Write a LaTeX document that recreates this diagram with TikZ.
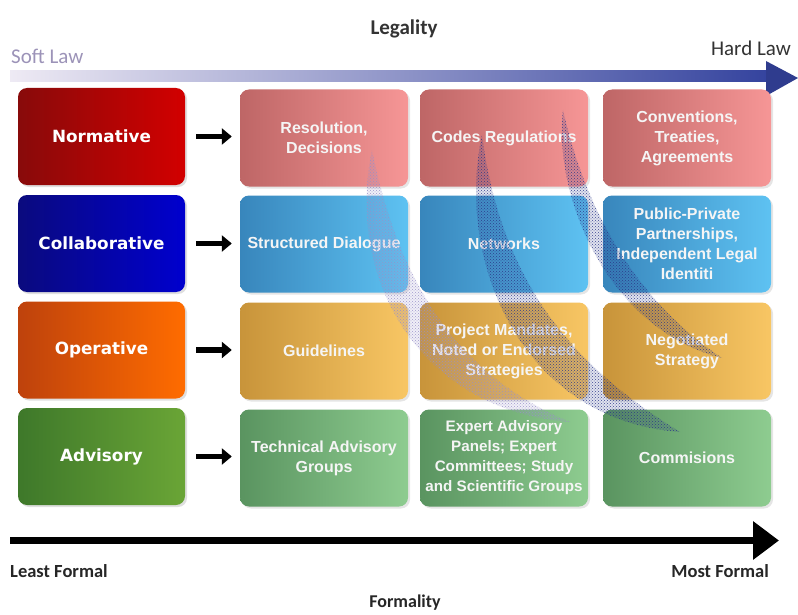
\documentclass[tikz,border=0pt]{standalone}
\usepackage{fontspec}
\usetikzlibrary{arrows.meta,shadows,patterns}
\newfontfamily\dvb{DejaVu Sans}
\newfontfamily\lib{Liberation Sans}
\newfontfamily\crl{Carlito}
\definecolor{nL}{HTML}{880A0A}\definecolor{nR}{HTML}{D20000}
\definecolor{cL}{HTML}{0A0A7E}\definecolor{cR}{HTML}{0000CE}
\definecolor{oL}{HTML}{BE420C}\definecolor{oR}{HTML}{FF6C00}
\definecolor{aL}{HTML}{3E782A}\definecolor{aR}{HTML}{6AA536}
\definecolor{r1L}{HTML}{BE6666}\definecolor{r1R}{HTML}{F69696}
\definecolor{r2L}{HTML}{3886BC}\definecolor{r2R}{HTML}{5EC2F2}
\definecolor{r3L}{HTML}{C8943A}\definecolor{r3R}{HTML}{F8C664}
\definecolor{r4L}{HTML}{5A9460}\definecolor{r4R}{HTML}{8ECC90}
\definecolor{axL}{HTML}{EEEAF4}\definecolor{axR}{HTML}{34439E}
\definecolor{softc}{HTML}{9C93B8}
\definecolor{swD}{HTML}{2A3688}\definecolor{swL}{HTML}{9890C8}
\tikzset{
  catbox/.style={rounded corners=9pt, minimum width=167pt, minimum height=97pt,
    text=white, align=center, inner sep=0pt,
    font=\dvb\bfseries\fontsize{16.8}{20}\selectfont,
    drop shadow={opacity=0.25,shadow xshift=2pt,shadow yshift=-2pt}},
  itembox/.style={rounded corners=9pt, minimum width=168pt, minimum height=97pt,
    text=white!96!black, align=center, inner sep=0pt,
    font=\lib\bfseries\fontsize{16}{20}\selectfont,
    drop shadow={opacity=0.2,shadow xshift=2pt,shadow yshift=-2pt}},
  goarrow/.style={line width=5.5pt, -{Triangle[length=10pt,width=16pt]}, shorten <=11pt, shorten >=8pt},
  swtint/.style={fill=#1, fill opacity=0.14},
  swoosh/.style={pattern=crosshatch dots, pattern color=#1},
  axislabel/.style={font=\crl\fontsize{21}{24}\selectfont, text=black!80, inner sep=0pt}
}
\begin{document}
\begin{tikzpicture}[x=1pt,y=-1pt]
\useasboundingbox (0,0) rectangle (798,615);
\fill[white] (0,0) rectangle (798,615);
% Legality axis
\node[axislabel, font=\crl\bfseries\fontsize{21}{24}\selectfont] (legality) at (404,29) {Legality};
\node[axislabel, text=softc, anchor=west] (soft) at (11,56) {Soft Law};
\node[axislabel, anchor=east] (hard) at (791,48) {Hard Law};
\coordinate (ls) at (10,76.5);
\coordinate (le) at (798,78);
\shade[left color=axL, right color=axR] (10,71) rectangle (770,82);
\fill[axR!90!black] (766,61) -- (le) -- (766,96) -- cycle;
% Category boxes
\node[catbox, left color=nL, right color=nR] (norm) at (101.5,136.5) {Normative};
\node[catbox, left color=cL, right color=cR] (coll) at (101.5,243.5) {Collaborative};
\node[catbox, left color=oL, right color=oR] (oper) at (101.5,350) {Operative};
\node[catbox, left color=aL, right color=aR] (advi) at (101.5,456.5) {Advisory};
% Row 1
\node[itembox, left color=r1L, right color=r1R] (r12) at (324,138) {Resolution,\\Decisions};
\node[itembox, left color=r1L, right color=r1R] (r13) at (504,138) {Codes Regulations};
\node[itembox, left color=r1L, right color=r1R] (r14) at (687,138) {Conventions,\\Treaties,\\Agreements};
% Row 2
\node[itembox, left color=r2L, right color=r2R] (r22) at (324,244) {Structured Dialogue};
\node[itembox, left color=r2L, right color=r2R] (r23) at (504,244) {Networks};
\node[itembox, left color=r2L, right color=r2R] (r24) at (687,244) {Public-Private\\Partnerships,\\Independent Legal\\Identiti};
% Row 3
\node[itembox, left color=r3L, right color=r3R] (r32) at (324,351) {Guidelines};
\node[itembox, left color=r3L, right color=r3R] (r33) at (504,351) {Project Mandates,\\Noted or Endorsed\\Strategies};
\node[itembox, left color=r3L, right color=r3R] (r34) at (687,351) {Negotiated\\Strategy};
% Row 4
\node[itembox, left color=r4L, right color=r4R] (r42) at (324,458) {Technical Advisory\\Groups};
\node[itembox, left color=r4L, right color=r4R, font=\lib\bfseries\fontsize{15.2}{20}\selectfont] (r43) at (504,458) {Expert Advisory\\Panels; Expert\\Committees; Study\\and Scientific Groups};
\node[itembox, left color=r4L, right color=r4R] (r44) at (687,458) {Commisions};
% Arrows
\draw[goarrow] (norm.east) -- (r12.west |- norm.east);
\draw[goarrow] (coll.east) -- (r22.west |- coll.east);
\draw[goarrow] (oper.east) -- (r32.west |- oper.east);
\draw[goarrow] (advi.east) -- (r42.west |- advi.east);
% Watermark swooshes
\def\swA{(372,150) .. controls (345,280) and (420,410) .. (570,422)
   .. controls (470,380) and (402,300) .. (372,150)}
\def\swB{(482,135) .. controls (455,260) and (520,420) .. (680,432)
   .. controls (580,370) and (502,290) .. (482,135)}
\def\swC{(563,110) .. controls (553,200) and (610,330) .. (722,358)
   .. controls (650,310) and (590,230) .. (563,110)}
\fill[swtint=swL] \swA;
\fill[swtint=swD] \swB;
\fill[swtint=swD] \swC;
\begin{scope}[opacity=0.9]
\fill[swoosh=swL] \swA;
\fill[swoosh=swD] \swB;
\fill[swoosh=swD] \swC;
\end{scope}
% Formality axis
\coordinate (fs) at (10,540.5);
\coordinate (fe) at (779,540.5);
\draw[line width=7pt, -{Triangle[length=26pt,width=37pt]}] (fs) -- (fe);
\node[axislabel, font=\crl\bfseries\fontsize{18.5}{21}\selectfont, text=black!85, anchor=west] (least) at (10,571) {Least Formal};
\node[axislabel, font=\crl\bfseries\fontsize{18.5}{21}\selectfont, text=black!85, anchor=east] (most) at (769,571) {Most Formal};
\node[axislabel, font=\crl\bfseries\fontsize{18}{21}\selectfont, text=black!85] (formality) at (405,603) {Formality};
\end{tikzpicture}
\end{document}
